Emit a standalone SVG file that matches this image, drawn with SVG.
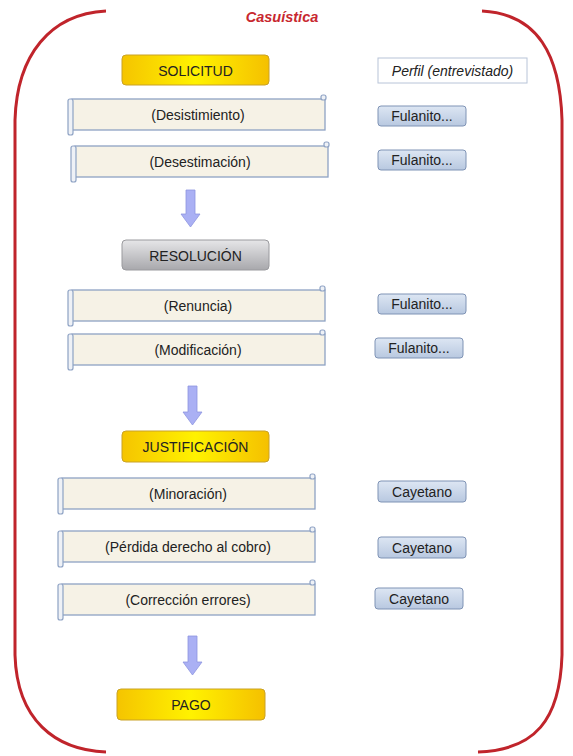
<svg xmlns="http://www.w3.org/2000/svg" width="573" height="756" viewBox="0 0 573 756">
<defs>
<linearGradient id="gold" x1="0" y1="0" x2="1" y2="0">
<stop offset="0" stop-color="#f5c400"/><stop offset="0.5" stop-color="#fff200"/><stop offset="1" stop-color="#f5c000"/>
</linearGradient>
<linearGradient id="grey" x1="0" y1="0" x2="0" y2="1">
<stop offset="0" stop-color="#e6e6e8"/><stop offset="1" stop-color="#a8a8ac"/>
</linearGradient>
<linearGradient id="btn" x1="0" y1="0" x2="0" y2="1">
<stop offset="0" stop-color="#dde6f3"/><stop offset="1" stop-color="#b8c8e0"/>
</linearGradient>
<style>
.t{font-family:"Liberation Sans",Arial,sans-serif;font-size:14px;fill:#222;text-anchor:middle}
.big{font-size:14px}
.gold{fill:url(#gold);stroke:#c9a227;stroke-width:1}
.grey{fill:url(#grey);stroke:#9a9a9e;stroke-width:1}
.btn{fill:url(#btn);stroke:#7f93b5;stroke-width:1}
.body{fill:#f6f2e6;stroke:#8ea2c4;stroke-width:1.3}
.roll{fill:#eef1f6;stroke:#8ea2c4;stroke-width:1.2}
.arrow{fill:#aab0f4;stroke:#8e95e0;stroke-width:0.8}
</style>
</defs>
<rect width="573" height="756" fill="#ffffff"/>
<g id="frame" fill="none" stroke="#c0242b" stroke-width="3">
<path d="M106,11 C50,14 17,55 15,120 L15,655 C17,720 55,750 106,752"/>
<path d="M482,11 C538,14 560,55 562,120 L562,655 C560,720 535,750 478,752"/>
</g>
<text id="title" x="282" y="22" class="t" style="fill:#c8282f;font-style:italic;font-weight:bold;font-size:14.5px">Casuística</text>

<g id="connectors">
<path class="arrow" d="M186,190 h9 v24 h5 l-9.5,13 l-9.5,-13 h5 z"/>
<path class="arrow" d="M188,386 h9 v26 h5 l-9.5,13 l-9.5,-13 h5 z"/>
<path class="arrow" d="M188,636 h9 v26 h5 l-9.5,13 l-9.5,-13 h5 z"/>
</g>

<g id="solicitud"><rect class="gold" x="122" y="55" width="147" height="30" rx="4"/><text class="t big" x="195.5" y="75.5">SOLICITUD</text></g>
<g id="perfil"><rect x="378" y="58" width="149" height="25" fill="#fff" stroke="#b8c4d8"/><text class="t" x="452.5" y="75.5" style="font-style:italic">Perfil (entrevistado)</text></g>

<g id="desistimiento"><rect class="body" x="72" y="99" width="253" height="31"/><rect class="roll" x="68" y="99" width="5" height="36" rx="2"/><rect class="roll" x="321" y="95" width="5" height="5" rx="2"/><text class="t" x="198" y="119.5">(Desistimiento)</text></g>
<g id="fulanito1"><rect class="btn" x="378" y="106" width="88" height="20" rx="3"/><text class="t" x="422" y="121">Fulanito...</text></g>

<g id="desestimacion"><rect class="body" x="75" y="146" width="253" height="31"/><rect class="roll" x="71" y="146" width="5" height="36" rx="2"/><rect class="roll" x="324" y="142" width="5" height="5" rx="2"/><text class="t" x="200" y="166.5">(Desestimación)</text></g>
<g id="fulanito2"><rect class="btn" x="378" y="150" width="88" height="20" rx="3"/><text class="t" x="422" y="165">Fulanito...</text></g>

<g id="resolucion"><rect class="grey" x="122" y="240" width="147" height="30" rx="4"/><text class="t big" x="195.5" y="260.5">RESOLUCIÓN</text></g>

<g id="renuncia"><rect class="body" x="72" y="290" width="253" height="31"/><rect class="roll" x="68" y="290" width="5" height="36" rx="2"/><rect class="roll" x="320" y="286" width="5" height="5" rx="2"/><text class="t" x="198" y="310.5">(Renuncia)</text></g>
<g id="fulanito3"><rect class="btn" x="378" y="294" width="88" height="20" rx="3"/><text class="t" x="422" y="309">Fulanito...</text></g>

<g id="modificacion"><rect class="body" x="72" y="334" width="253" height="31"/><rect class="roll" x="68" y="334" width="5" height="36" rx="2"/><rect class="roll" x="320" y="330" width="5" height="5" rx="2"/><text class="t" x="198" y="354.5">(Modificación)</text></g>
<g id="fulanito4"><rect class="btn" x="375" y="338" width="88" height="20" rx="3"/><text class="t" x="419" y="353">Fulanito...</text></g>

<g id="justificacion"><rect class="gold" x="122" y="431" width="147" height="31" rx="4"/><text class="t big" x="195.5" y="451.5">JUSTIFICACIÓN</text></g>

<g id="minoracion"><rect class="body" x="62" y="478" width="253" height="31"/><rect class="roll" x="58" y="478" width="5" height="36" rx="2"/><rect class="roll" x="310" y="474" width="5" height="5" rx="2"/><text class="t" x="188" y="498.5">(Minoración)</text></g>
<g id="cayetano1"><rect class="btn" x="378" y="481" width="88" height="21" rx="3"/><text class="t" x="422" y="496.5">Cayetano</text></g>

<g id="perdida"><rect class="body" x="62" y="531" width="253" height="31"/><rect class="roll" x="58" y="531" width="5" height="36" rx="2"/><rect class="roll" x="310" y="527" width="5" height="5" rx="2"/><text class="t" x="188" y="551.5">(Pérdida derecho al cobro)</text></g>
<g id="cayetano2"><rect class="btn" x="378" y="537" width="88" height="21" rx="3"/><text class="t" x="422" y="552.5">Cayetano</text></g>

<g id="correccion"><rect class="body" x="62" y="584" width="253" height="31"/><rect class="roll" x="58" y="584" width="5" height="36" rx="2"/><rect class="roll" x="310" y="580" width="5" height="5" rx="2"/><text class="t" x="188" y="604.5">(Corrección errores)</text></g>
<g id="cayetano3"><rect class="btn" x="375" y="588" width="88" height="21" rx="3"/><text class="t" x="419" y="603.5">Cayetano</text></g>

<g id="pago"><rect class="gold" x="117" y="689" width="148" height="31" rx="4"/><text class="t big" x="191" y="709.5">PAGO</text></g>
</svg>
